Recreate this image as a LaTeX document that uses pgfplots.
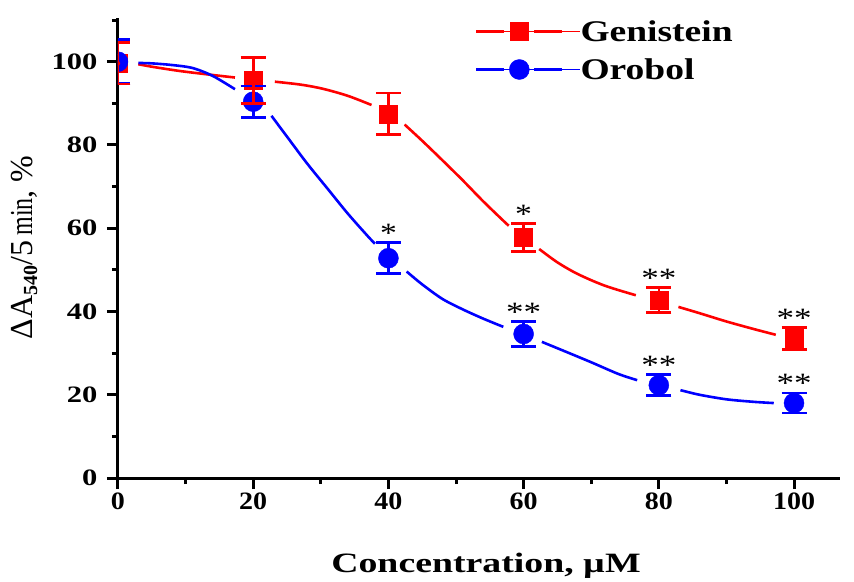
\documentclass[border=0pt]{standalone}
\usepackage{fontspec}
\setmainfont{Liberation Serif}
\usepackage{graphicx}
\usepackage{pgfplots}
\usepackage{pgfplotstable}
\pgfplotsset{compat=1.18}

\pgfplotstableread{
x y e
0 99.6 5.0
20 95.5 5.5
40 87.5 5.0
60 57.8 3.4
80 42.7 3.0
100 33.5 2.6
}\gen

\pgfplotstableread{
x y e
0 100.0 5.3
20 90.4 3.8
40 52.8 3.7
60 34.6 3.0
80 22.3 2.5
100 18.0 2.4
}\oro

\pgfplotstableread{
x y
3.0 99.4
5 98.8
9 97.8
13 97.0
17.3 96.2
nan nan
23.2 95.2
27 94.5
30.3 93.5
34 91.8
37.5 89.6
nan nan
42.4 84.9
45 81.0
48 76.3
51 71.5
54 66.5
57 61.8
57.8 60.6
nan nan
62.3 55.0
65 51.8
68 49.0
72 46.2
76.6 43.9
nan nan
82.9 41.1
86 39.6
90 37.6
94 35.8
97.3 34.4
}\gencurve

\pgfplotstableread{
x y
3.0 99.7
5 99.6
8 99.2
11 98.5
14 96.6
17.3 93.4
nan nan
22.7 87.0
25 82.0
28 75.5
31 69.5
34 63.5
37 58.0
38.0 56.3
nan nan
42.7 49.6
45 46.5
48 43.0
51 40.5
54 38.3
57.0 36.3
nan nan
62.7 32.7
66 30.5
70 27.8
74 25.0
76.8 23.5
nan nan
83.2 21.1
86 20.0
90 18.9
94 18.3
97 18.0
}\orocurve

\pgfplotsset{
  genleg/.style={legend image code/.code={
    \draw[red, line width=2.6pt] (0pt,0pt) -- (28pt,0pt);
    \draw[red, line width=2.6pt] (58pt,0pt) -- (86pt,0pt);
    \draw[red, mark=square*, mark size=9pt, only marks] plot coordinates {(43pt,0pt)};
    \path (0pt,0pt) -- (104pt,0pt);
  }},
  oroleg/.style={legend image code/.code={
    \draw[blue, line width=2.6pt] (0pt,0pt) -- (28pt,0pt);
    \draw[blue, line width=2.6pt] (58pt,0pt) -- (86pt,0pt);
    \draw[blue, mark=*, mark size=10pt, only marks] plot coordinates {(43pt,0pt)};
    \path (0pt,0pt) -- (104pt,0pt);
  }},
  ebars/.style={only marks, mark=none, forget plot,
    error bars/.cd, y dir=both, y explicit,
    error bar style={#1, line width=2.6pt},
    error mark options={#1, rotate=90, line width=2.6pt, mark size=12.5pt}},
}

\begin{document}
\begin{tikzpicture}
\begin{axis}[
  at={(0,0)}, anchor=south west,
  scale only axis, width=722pt, height=460pt,
  xmin=0, xmax=106.8, ymin=0, ymax=110.5,
  axis x line=bottom, axis y line=left,
  axis line style={line width=3pt, -},
  xtick={0,20,40,60,80,100}, ytick={0,20,40,60,80,100},
  minor xtick={10,30,50,70,90}, minor ytick={10,30,50,70,90,110},
  tick align=outside,
  major tick length=11pt, minor tick length=6pt,
  every tick/.style={black, line width=3pt},
  clip marker paths=true,
  xticklabel={\scalebox{1.12}[1]{\pgfmathprintnumber[assume math mode=true]{\tick}}},
  yticklabel={\scalebox{1.3}[1]{\pgfmathprintnumber[assume math mode=true]{\tick}}},
  every x tick label/.append style={font=\fontsize{25}{25}\selectfont\bfseries},
  every y tick label/.append style={font=\fontsize{23.5}{23.5}\selectfont\bfseries, xshift=-6pt},
  xlabel={\scalebox{1.35}[1]{Concentration, µM}},
  xlabel style={font=\fontsize{28}{28}\selectfont\bfseries, at={(axis description cs:0.5097,-0.2065)}, anchor=base},
  ylabel={{\fontsize{32}{32}\selectfont ΔA}\raisebox{-5pt}{\fontsize{20}{20}\selectfont\bfseries 540}{\fontsize{32}{32}\selectfont /5\,\scalebox{0.75}[1]{min}, \%}},
  ylabel style={at={(axis description cs:-0.130,0.501)}, anchor=center},
  unbounded coords=jump,
  legend style={at={(axis description cs:0.4945,0.9935)}, anchor=north west, draw=none, fill=none,
    font=\fontsize{30}{30}\selectfont\bfseries, inner sep=0pt, outer sep=0pt, row sep=17pt,
    nodes={inner sep=0pt, text height=21pt, text depth=0pt}},
  legend cell align=left,
]
\addplot[red, line width=2.6pt, smooth, tension=0.5, forget plot] table[x=x,y=y] {\gencurve};
\addplot[blue, line width=2.6pt, smooth, tension=0.5, forget plot] table[x=x,y=y] {\orocurve};

\addplot[red, only marks, mark=square*, mark size=9pt, genleg] table[x=x,y=y] {\gen};
\addlegendentry{\scalebox{1.25}[1]{Genistein}}

\addplot[blue, only marks, mark=*, mark size=10pt, oroleg] table[x=x,y=y] {\oro};
\addlegendentry{\scalebox{1.25}[1]{Orobol}}

\addplot[blue, ebars=blue] table[x=x,y=y,y error=e] {\oro};
\addplot[red, ebars=red] table[x=x,y=y,y error=e] {\gen};

\begin{scope}[every node/.style={anchor=south, inner sep=0pt, font=\fontsize{28}{28}\selectfont}]
\node at (axis cs:60,61.2) {\scalebox{1.2}[1]{*}};
\node at (axis cs:80,45.7) {\scalebox{1.25}[1]{**}};
\node at (axis cs:100,36.1) {\scalebox{1.25}[1]{**}};
\node at (axis cs:40,56.5) {\scalebox{1.2}[1]{*}};
\node at (axis cs:60,37.6) {\scalebox{1.25}[1]{**}};
\node at (axis cs:80,24.8) {\scalebox{1.25}[1]{**}};
\node at (axis cs:100,20.4) {\scalebox{1.25}[1]{**}};
\end{scope}
\end{axis}
\pgfresetboundingbox
\path[use as bounding box] (-118pt,-103pt) rectangle (736pt,478pt);
\end{tikzpicture}
\end{document}
